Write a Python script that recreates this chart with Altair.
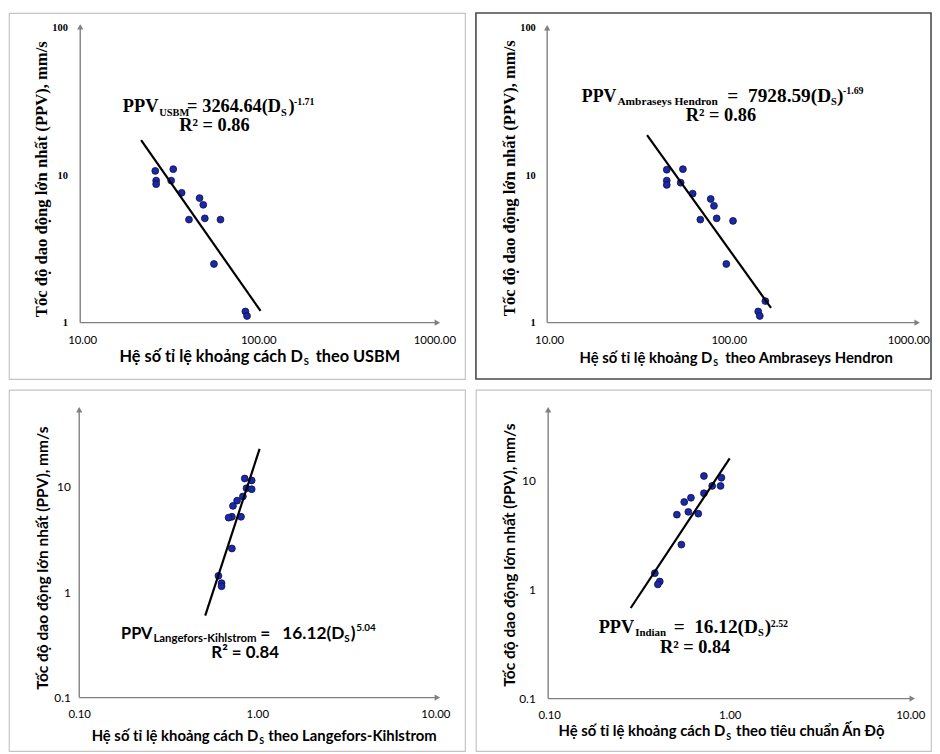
import altair as alt
import pandas as pd

# ---------------- data ----------------
USBM_DS = [26.0, 26.3, 26.3, 32.9, 32.0, 36.7, 46.4, 48.7, 40.4, 49.7, 61.0, 56.0, 84.5, 86.3]
USBM_PPV = [10.7, 9.2, 8.7, 11.0, 9.2, 7.6, 7.0, 6.3, 5.0, 5.1, 5.0, 2.5, 1.19, 1.11]
USBM_LINE_DS = [21.6, 103.0]
USBM_LINE_PPV = [17.3, 1.2]

AH_DS = [45.2, 45.2, 45.2, 55.6, 54.0, 63.0, 79.4, 82.8, 69.5, 85.7, 105.7, 97.0, 160.0, 146.0, 149.0]
AH_PPV = [10.9, 9.2, 8.6, 11.0, 8.9, 7.5, 6.9, 6.2, 5.0, 5.1, 4.9, 2.5, 1.4, 1.19, 1.11]
AH_LINE_DS = [35.1, 172.0]
AH_LINE_PPV = [18.7, 1.26]

LK_DS = [0.85, 0.93, 0.87, 0.93, 0.83, 0.77, 0.73, 0.72, 0.81, 0.69, 0.72, 0.605, 0.63, 0.63]
LK_PPV = [12.0, 11.5, 9.7, 9.5, 8.1, 7.4, 6.6, 5.2, 5.2, 5.1, 2.6, 1.43, 1.22, 1.14]
LK_LINE_DS = [0.51, 1.03]
LK_LINE_PPV = [0.6, 22.9]

IND_DS = [0.72, 0.90, 0.89, 0.80, 0.72, 0.61, 0.56, 0.51, 0.59, 0.67, 0.54, 0.385, 0.41, 0.40]
IND_PPV = [11.1, 10.7, 9.0, 9.0, 7.7, 7.0, 6.4, 4.9, 5.2, 5.0, 2.6, 1.42, 1.19, 1.12]
IND_LINE_DS = [0.283, 1.0]
IND_LINE_PPV = [0.68, 16.1]

TOP_X_TICKS = [10, 100, 1000]
TOP_Y_TICKS = [1, 10, 100]
BOT_X_TICKS = [0.1, 1, 10]
BOT_Y_TICKS = [0.1, 1, 10]

Y_TITLE = "Tốc độ dao động lớn nhất (PPV), mm/s"

SERIF = "Liberation Serif"
SANS = "Lato"
AXIS_GRAY = "#808080"

ONE = alt.Data(values=[{"a": 1}])


def txt(text, x, y, size, font, align="left", angle=0, baseline="alphabetic", weight="bold"):
    return alt.Chart(ONE).mark_text(
        text=text, font=font, fontSize=size, fontWeight=weight, align=align,
        baseline=baseline, angle=angle, color="black"
    ).encode(x=alt.value(x), y=alt.value(y))


def panel(ds, ppv, lds, lppv, cfg):
    W, H = cfg["W"], cfg["H"]
    pts = pd.DataFrame({"ds": ds, "ppv": ppv})
    ln = pd.DataFrame({"ds": lds, "ppv": lppv})
    xenc = alt.X(
        "ds:Q",
        scale=alt.Scale(type="log", domain=cfg["xdom"], range=cfg["xrange"], nice=False),
        axis=alt.Axis(values=cfg["xticks"], format=".2f", domain=False, ticks=False, tickSize=0,
                      grid=False, labelFont=SANS, labelFontSize=11.5, labelColor="black",
                      labelPadding=cfg["xpad"], labelFlush=False, labelOverlap=False,
                      offset=cfg["ay"] - H, title=None),
    )
    yenc = alt.Y(
        "ppv:Q",
        scale=alt.Scale(type="log", domain=cfg["ydom"], range=cfg["yrange"], nice=False),
        axis=alt.Axis(values=cfg["yticks"], format="~g", domain=False, ticks=False, tickSize=0,
                      grid=False, labelFont=cfg["ylfont"], labelFontSize=cfg["ylsize"],
                      labelFontWeight=cfg["ylweight"], labelColor="black",
                      labelPadding=cfg["ypad"], labelFlush=False, labelOverlap=False,
                      offset=-cfg["ax"], title=None),
    )
    ax, ay, ytop, xend = cfg["ax"], cfg["ay"], cfg["ytop"], cfg["xend"]
    layers = [
        alt.Chart(ONE).mark_rule(color=AXIS_GRAY, strokeWidth=1.4).encode(
            x=alt.value(ax), y=alt.value(ytop + 5), y2=alt.value(ay)),
        alt.Chart(ONE).mark_rule(color=AXIS_GRAY, strokeWidth=1.4).encode(
            x=alt.value(ax), x2=alt.value(xend - 5), y=alt.value(ay)),
        alt.Chart(ONE).mark_point(shape="triangle-up", filled=True, color=AXIS_GRAY, size=40, opacity=1).encode(
            x=alt.value(ax), y=alt.value(ytop + 4)),
        alt.Chart(ONE).mark_point(shape="triangle-right", filled=True, color=AXIS_GRAY, size=40, opacity=1).encode(
            x=alt.value(xend - 4), y=alt.value(ay)),
        alt.Chart(pts).mark_circle(size=48, color="#1c2aa0", opacity=1, stroke="#0b0b55", strokeWidth=0.8).encode(
            x=xenc, y=yenc),
        alt.Chart(ln).mark_line(color="black", strokeWidth=2.2).encode(x=xenc, y=yenc),
    ]
    for piece in cfg["texts"]:
        layers.append(txt(*piece))
    return alt.layer(*layers).properties(
        width=W, height=H,
        view=alt.ViewBackground(stroke=cfg["border"], strokeWidth=cfg["bw"], fill="white"),
    )


SUB_S = 10.5
SUP_S = 10

tl_cfg = dict(
    W=461, H=370, xdom=[10, 1000], xrange=[74, 430], ydom=[1, 100], yrange=[313, 15],
    xticks=TOP_X_TICKS, yticks=TOP_Y_TICKS, xpad=12, ypad=13, ylfont=SERIF, ylsize=10.5, ylweight="bold",
    ax=72, ay=313, ytop=10, xend=437, border="#c4c4c4", bw=1.2,
    texts=[
        ("PPV", 151, 100.3, 18.5, SERIF, "right"),
        ("USBM", 152, 104.3, SUB_S, SERIF, "left"),
        ("=", 180, 100.3, 18.5, SERIF, "left"),
        ("3264.64(D", 275, 100.3, 18.5, SERIF, "right"),
        ("S", 275, 104.3, SUB_S, SERIF, "left"),
        (")", 282.5, 100.3, 18.5, SERIF, "left"),
        ("-1.71", 288, 93, SUP_S, SERIF, "left"),
        ("R² = 0.86", 207.7, 119.7, 18.5, SERIF, "center"),
        ("Hệ số tỉ lệ khoảng cách D", 297, 352.7, 16.5, SANS, "right"),
        ("S", 298, 356, 9.5, SANS, "left"),
        ("theo USBM", 310, 352.7, 16.5, SANS, "left"),
        (Y_TITLE, 33, 168, 16.8, SERIF, "center", 270, "middle"),
    ],
)

tr_cfg = dict(
    W=460, H=370, xdom=[10, 1000], xrange=[74, 437], ydom=[1, 100], yrange=[313, 15],
    xticks=TOP_X_TICKS, yticks=TOP_Y_TICKS, xpad=12, ypad=12, ylfont=SERIF, ylsize=10.5, ylweight="bold",
    ax=72, ay=313, ytop=11, xend=450, border="#4a4a4a", bw=1.6,
    texts=[
        ("PPV", 142, 90.3, 18, SERIF, "right"),
        ("Ambraseys Hendron", 143, 93, 11.5, SERIF, "left"),
        ("=", 254, 90.3, 19.5, SERIF, "left"),
        ("7928.59(D", 359, 90.3, 19.5, SERIF, "right"),
        ("S", 359, 93.5, SUB_S, SERIF, "left"),
        (")", 365, 90.3, 19.5, SERIF, "left"),
        ("-1.69", 371, 82, SUP_S, SERIF, "left"),
        ("R² = 0.86", 247.7, 108.7, 18.5, SERIF, "center"),
        ("Hệ số tỉ lệ khoảng D", 239, 354, 15, SANS, "right"),
        ("S", 240, 357, 9, SANS, "left"),
        ("theo Ambraseys Hendron", 252, 354, 15, SANS, "left"),
        (Y_TITLE, 34, 167, 16.8, SERIF, "center", 270, "middle"),
    ],
)

bl_cfg = dict(
    W=461, H=365, xdom=[0.1, 10], xrange=[71, 431], ydom=[0.1, 10], yrange=[311, 98],
    xticks=BOT_X_TICKS, yticks=BOT_Y_TICKS, xpad=11, ypad=9, ylfont=SANS, ylsize=12, ylweight="normal",
    ax=71, ay=311, ytop=16, xend=437, border="#c4c4c4", bw=1.2,
    texts=[
        ("PPV", 145, 251.3, 16.5, SANS, "right"),
        ("Langefors-Kihlstrom", 146, 254.7, 11.5, SANS, "left"),
        ("=", 254, 251.3, 17.5, SANS, "left"),
        ("16.12(D", 339, 251.3, 17.5, SANS, "right"),
        ("S", 339, 254.7, 10, SANS, "left"),
        (")", 345.5, 251.3, 17.5, SANS, "left"),
        ("5.04", 351, 243.7, 10, SANS, "left"),
        ("R² = 0.84", 238.7, 271.3, 17, SANS, "center"),
        ("Hệ số tỉ lệ khoảng cách D", 252, 355, 15, SANS, "right"),
        ("S", 253, 358, 9, SANS, "left"),
        ("theo Langefors-Kihlstrom", 262, 355, 15, SANS, "left"),
        (Y_TITLE, 34, 170, 15.7, SANS, "center", 270, "middle"),
    ],
)

br_cfg = dict(
    W=460, H=365, xdom=[0.1, 10], xrange=[74, 439], ydom=[0.1, 10], yrange=[312, 92],
    xticks=BOT_X_TICKS, yticks=BOT_Y_TICKS, xpad=11, ypad=13, ylfont=SANS, ylsize=12, ylweight="normal",
    ax=73, ay=312, ytop=16, xend=445, border="#c4c4c4", bw=1.2,
    texts=[
        ("PPV", 160, 245.3, 18.5, SERIF, "right"),
        ("Indian", 161, 249, 11, SERIF, "left"),
        ("=", 200, 245.3, 19.5, SERIF, "left"),
        ("16.12(D", 285, 245.3, 19.5, SERIF, "right"),
        ("S", 285, 249, SUB_S, SERIF, "left"),
        (")", 292, 245.3, 19.5, SERIF, "left"),
        ("2.52", 298, 239.7, SUP_S, SERIF, "left"),
        ("R² = 0.84", 221.5, 266.3, 18.5, SERIF, "center"),
        ("Hệ số tỉ lệ khoảng cách D", 252, 350.3, 15, SANS, "right"),
        ("S", 253, 353.5, 9, SANS, "left"),
        ("theo tiêu chuẩn Ấn Độ", 263, 350.3, 15, SANS, "left"),
        (Y_TITLE, 34, 167, 15.7, SANS, "center", 270, "middle"),
    ],
)

tl = panel(USBM_DS, USBM_PPV, USBM_LINE_DS, USBM_LINE_PPV, tl_cfg)
tr = panel(AH_DS, AH_PPV, AH_LINE_DS, AH_LINE_PPV, tr_cfg)
bl = panel(LK_DS, LK_PPV, LK_LINE_DS, LK_LINE_PPV, bl_cfg)
br = panel(IND_DS, IND_PPV, IND_LINE_DS, IND_LINE_PPV, br_cfg)

chart = alt.vconcat(
    alt.hconcat(tl, tr, spacing=9),
    alt.hconcat(bl, br, spacing=9),
    spacing=9,
).properties(padding=0, background="white")

chart.save("out.html", embed_options={"renderer": "svg", "actions": False})
